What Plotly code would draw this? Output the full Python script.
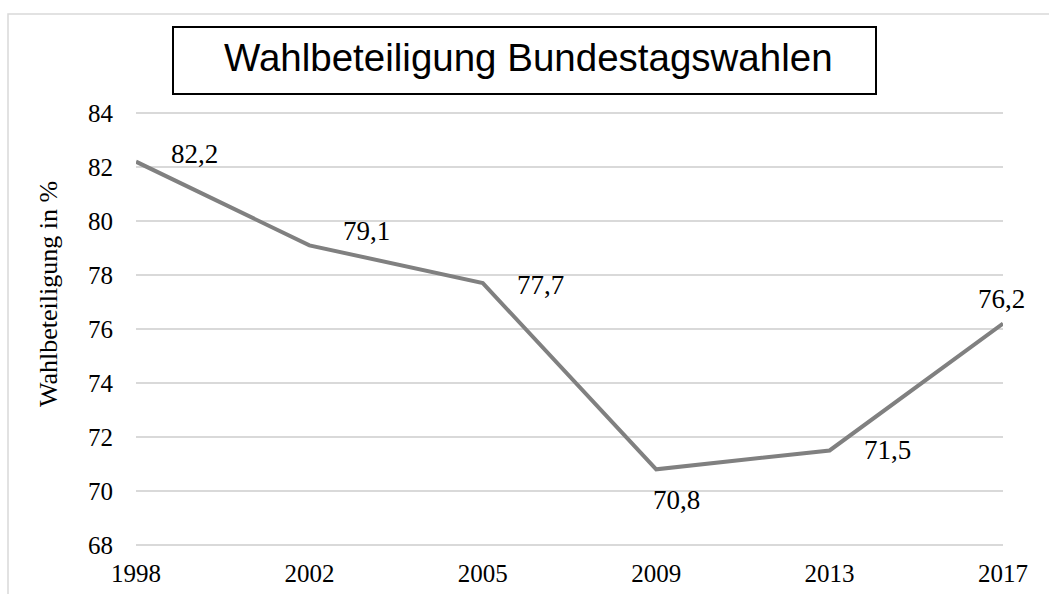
import plotly.graph_objects as go

years = ["1998", "2002", "2005", "2009", "2013", "2017"]
turnout = [82.2, 79.1, 77.7, 70.8, 71.5, 76.2]
y_ticks = [68, 70, 72, 74, 76, 78, 80, 82, 84]
title_text = "Wahlbeteiligung Bundestagswahlen"
y_title = "Wahlbeteiligung in %"

# label offsets (px) relative to the data point: (xshift, yshift)
label_offsets = [(58, 8), (57, 14), (58, -2), (20, -31), (58, 0), (-2, 25)]

W, H = 1049, 594
L, R, T, B = 136, 46, 112, 48
pw, ph = W - L - R, H - T - B

def px_x(x):
    return (x - L) / pw

def px_y(y):
    return 1 - (y - T) / ph

fig = go.Figure()
fig.add_trace(go.Scatter(
    x=years, y=turnout, mode="lines",
    line=dict(color="#808080", width=4),
    hoverinfo="x+y", showlegend=False,
))

serif = "Liberation Serif, Times New Roman, serif"
ann = []
for i, (v, (dx, dy)) in enumerate(zip(turnout, label_offsets)):
    ann.append(dict(
        x=i, y=v, xref="x", yref="y", text=f"{v:.1f}".replace(".", ","),
        showarrow=False, xshift=dx, yshift=dy, xanchor="center", yanchor="middle",
        font=dict(family=serif, size=27, color="#000000"),
    ))

ann.append(dict(
    x=px_x(528.5), y=px_y(57), xref="paper", yref="paper", text=title_text,
    showarrow=False, xanchor="center", yanchor="middle",
    font=dict(family="Liberation Sans, Arial, sans-serif", size=38.5, color="#000000"),
))
ann.append(dict(
    x=px_x(48), y=px_y(294), xref="paper", yref="paper", text=y_title,
    showarrow=False, xanchor="center", yanchor="middle", textangle=-90,
    font=dict(family=serif, size=26, color="#000000"),
))

shapes = [
    dict(type="rect", xref="paper", yref="paper",
         x0=px_x(8), x1=px_x(1070), y0=px_y(14), y1=px_y(620),
         line=dict(color="#d9d9d9", width=1.5), fillcolor="rgba(0,0,0,0)", layer="below"),
    dict(type="rect", xref="paper", yref="paper",
         x0=px_x(173), x1=px_x(876), y0=px_y(27), y1=px_y(94),
         line=dict(color="#000000", width=2), fillcolor="rgba(0,0,0,0)"),
]
# edge gridlines (plotly omits grid at the range ends)
for yv in (y_ticks[0], y_ticks[-1]):
    shapes.append(dict(type="line", xref="paper", yref="y", x0=0, x1=1, y0=yv, y1=yv,
                       line=dict(color="#d9d9d9", width=1.5), layer="below"))

fig.update_layout(
    width=W, height=H,
    margin=dict(l=L, r=R, t=T, b=B, pad=0, autoexpand=False),
    paper_bgcolor="white", plot_bgcolor="white",
    annotations=ann, shapes=shapes,
    xaxis=dict(
        type="category", range=[0, len(years) - 1], automargin=False,
        showgrid=False, zeroline=False, showline=False, ticks="",
        tickfont=dict(family=serif, size=25, color="#000000"),
        ticklabelstandoff=10,
    ),
    yaxis=dict(
        range=[67.96, 84.04], tickvals=y_ticks, ticktext=[str(t) for t in y_ticks],
        automargin=False,
        showgrid=True, gridcolor="#d9d9d9", gridwidth=1.5,
        zeroline=False, showline=False, ticks="",
        tickfont=dict(family=serif, size=25, color="#000000"),
        ticklabelstandoff=22,
    ),
)

fig.write_html("out.html", config={"displayModeBar": False},
               post_script="document.body.style.margin='0px';")
